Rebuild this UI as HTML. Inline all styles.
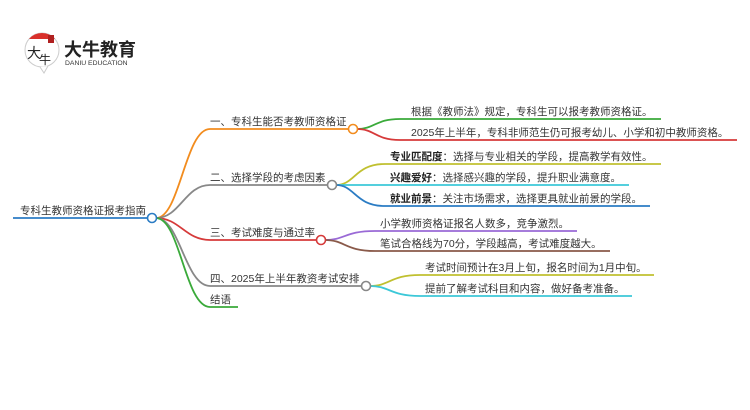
<!DOCTYPE html>
<html><head><meta charset="utf-8"><style>
body{margin:0;background:#fff}
svg{display:block}
text{font-family:"Liberation Sans","Noto Sans CJK SC",sans-serif;fill:#333}
</style></head><body>
<svg width="750" height="410" viewBox="0 0 750 410">
<!-- logo -->
<circle cx="42" cy="50" r="17" fill="#fff" stroke="#ccc" stroke-width="1"/>
<path d="M29 39 A17 17 0 0 1 55 39 Z" fill="#d9302b"/>
<path d="M40 67 L44 73 L48 66" fill="#fff" stroke="#ccc"/>
<rect x="48" y="35" width="6" height="8" fill="#b02020"/>
<text x="27" y="58" font-size="14" style="fill:#222">大</text>
<text x="39" y="64" font-size="12" style="fill:#222">牛</text>
<text x="64" y="56" font-size="18" font-weight="bold" style="fill:#222">大牛教育</text>
<text x="65" y="65" font-size="6.8" style="fill:#333">DANIU EDUCATION</text>

<g fill="none" stroke-width="1.8">
<path d="M13 218 H148" stroke="#2b7cc4"/>
<path d="M156 218 C180 218,185 129,210 129 H349" stroke="#f28c1e"/>
<path d="M156 218 C180 218,185 185,210 185 H327" stroke="#888"/>
<path d="M156 218 C180 218,185 240,210 240 H317" stroke="#d63a3a"/>
<path d="M156 218 C180 218,185 286,210 286 H362" stroke="#888"/>
<path d="M156 218 C180 218,185 307,210 307 H238" stroke="#3aaa3a"/>
<path d="M357 129 C375 129,375 119,400 119 H661" stroke="#3aaa3a"/>
<path d="M357 129 C375 129,375 140,400 140 H737" stroke="#d63a3a"/>
<path d="M336 185 C355 185,355 164,385 164 H661" stroke="#c0c030"/>
<path d="M336 185 H629" stroke="#3cc8d8"/>
<path d="M336 185 C355 185,355 206,385 206 H650" stroke="#2b7cc4"/>
<path d="M325 240 C345 240,345 231,375 231 H577" stroke="#9a6ad6"/>
<path d="M325 240 C345 240,345 251,375 251 H610" stroke="#8a5a4a"/>
<path d="M370 286 C390 286,390 275,420 275 H654" stroke="#c0c030"/>
<path d="M370 286 C390 286,390 296,420 296 H632" stroke="#3cc8d8"/>
</g>
<g fill="#fff" stroke-width="1.6">
<circle cx="152" cy="218" r="4.5" stroke="#2b7cc4"/>
<circle cx="353" cy="129" r="4.5" stroke="#f28c1e"/>
<circle cx="332" cy="185" r="4.5" stroke="#888"/>
<circle cx="321" cy="240" r="4.5" stroke="#d63a3a"/>
<circle cx="366" cy="286" r="4.5" stroke="#888"/>
</g>
<g font-size="10.5">
<text x="20" y="214">专科生教师资格证报考指南</text>
<text x="210" y="125">一、专科生能否考教师资格证</text>
<text x="210" y="181">二、选择学段的考虑因素</text>
<text x="210" y="236">三、考试难度与通过率</text>
<text x="210" y="282">四、2025年上半年教资考试安排</text>
<text x="210" y="303">结语</text>
<text x="411" y="115">根据《教师法》规定，专科生可以报考教师资格证。</text>
<text x="411" y="136">2025年上半年，专科非师范生仍可报考幼儿、小学和初中教师资格。</text>
<text x="390" y="160"><tspan font-weight="bold" style="fill:#222">专业匹配度</tspan>：选择与专业相关的学段，提高教学有效性。</text>
<text x="390" y="181"><tspan font-weight="bold" style="fill:#222">兴趣爱好</tspan>：选择感兴趣的学段，提升职业满意度。</text>
<text x="390" y="202"><tspan font-weight="bold" style="fill:#222">就业前景</tspan>：关注市场需求，选择更具就业前景的学段。</text>
<text x="380" y="227">小学教师资格证报名人数多，竞争激烈。</text>
<text x="380" y="247">笔试合格线为70分，学段越高，考试难度越大。</text>
<text x="425" y="271">考试时间预计在3月上旬，报名时间为1月中旬。</text>
<text x="425" y="292">提前了解考试科目和内容，做好备考准备。</text>
</g>
</svg>
</body></html>
